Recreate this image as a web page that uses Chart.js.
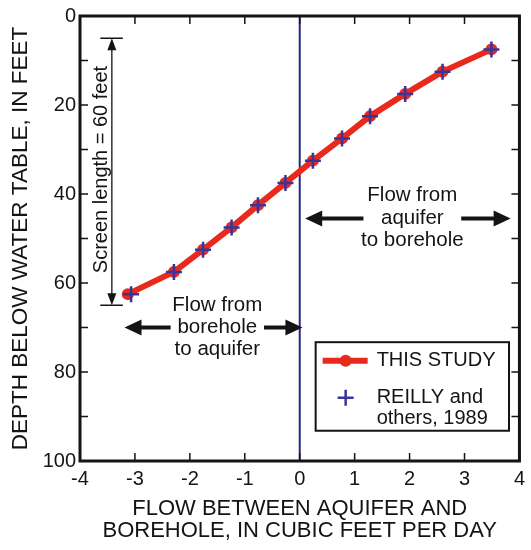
<!DOCTYPE html>
<html>
<head>
<meta charset="utf-8">
<script src="https://cdn.jsdelivr.net/npm/chart.js@4.4.0/dist/chart.umd.min.js"></script>
<style>
  body { margin: 0; background: #fff; }
  canvas { display: block; }
</style>
</head>
<body>
<canvas id="flowChart" width="531" height="550"></canvas>
<script>
// depth below water table (feet) and flow into/out of the borehole (cubic feet per day)
var depth = [62.5, 57.5, 52.5, 47.5, 42.5, 37.5, 32.5, 27.5, 22.5, 17.5, 12.5, 7.5];
var flowThisStudy = [-3.13, -2.29, -1.76, -1.24, -0.76, -0.26, 0.24, 0.77, 1.28, 1.92, 2.60, 3.49];
var flowReilly = [-3.07, -2.29, -1.76, -1.24, -0.76, -0.26, 0.24, 0.77, 1.28, 1.92, 2.60, 3.49];

// axis ticks
var xTicks = [-4, -3, -2, -1, 0, 1, 2, 3, 4];
var yTicks = [0, 10, 20, 30, 40, 50, 60, 70, 80, 90, 100];
var yLabels = [0, 20, 40, 60, 80, 100];

var FONT = "'Liberation Sans', Arial, sans-serif";
var INK = '#141414';

function toPoints(xs, ys) {
    var pts = [];
    for (var i = 0; i < xs.length; i++) {
        pts.push({ x: xs[i], y: ys[i] });
    }
    return pts;
}

// filled arrow head pointing from (x0,y0) toward tip (x1,y1)
function arrowHead(ctx, x0, y0, x1, y1, len, half) {
    var ang = Math.atan2(y1 - y0, x1 - x0);
    ctx.beginPath();
    ctx.moveTo(x1, y1);
    ctx.lineTo(x1 - len * Math.cos(ang) + half * Math.sin(ang), y1 - len * Math.sin(ang) - half * Math.cos(ang));
    ctx.lineTo(x1 - len * Math.cos(ang) - half * Math.sin(ang), y1 - len * Math.sin(ang) + half * Math.cos(ang));
    ctx.closePath();
    ctx.fill();
}

// horizontal double arrow with a gap for the label in the middle
function flowArrow(ctx, left, gapL, gapR, right, y) {
    ctx.lineWidth = 4;
    ctx.beginPath();
    ctx.moveTo(left + 10, y); ctx.lineTo(gapL, y);
    ctx.moveTo(gapR, y); ctx.lineTo(right - 10, y);
    ctx.stroke();
    arrowHead(ctx, gapL, y, left, y, 17, 8);
    arrowHead(ctx, gapR, y, right, y, 17, 8);
}

var annotations = {
    id: 'annotations',
    afterDraw: function(chart) {
        var ctx = chart.ctx;
        var xs = chart.scales.x, ys = chart.scales.y, a = chart.chartArea;
        var px = function(v) { return xs.getPixelForValue(v); };
        var py = function(v) { return ys.getPixelForValue(v); };
        ctx.save();
        ctx.strokeStyle = INK;
        ctx.fillStyle = INK;

        // frame
        ctx.lineWidth = 3;
        ctx.strokeRect(a.left, a.top, a.right - a.left, a.bottom - a.top);

        // inward tick marks on all four sides
        ctx.lineWidth = 1.5;
        ctx.beginPath();
        xTicks.forEach(function(v) {
            ctx.moveTo(px(v), a.bottom); ctx.lineTo(px(v), a.bottom - 8);
            ctx.moveTo(px(v), a.top); ctx.lineTo(px(v), a.top + 8);
        });
        yTicks.forEach(function(v) {
            ctx.moveTo(a.left, py(v)); ctx.lineTo(a.left + 8, py(v));
            ctx.moveTo(a.right, py(v)); ctx.lineTo(a.right - 8, py(v));
        });
        ctx.stroke();

        // screen length bar
        var sx = px(-3.42), sTop = py(5), sBot = py(65);
        ctx.lineWidth = 1.3;
        ctx.beginPath();
        ctx.moveTo(px(-3.63), sTop); ctx.lineTo(px(-3.22), sTop);
        ctx.moveTo(px(-3.63), sBot); ctx.lineTo(px(-3.22), sBot);
        ctx.moveTo(sx, sTop + 8); ctx.lineTo(sx, sBot - 8);
        ctx.stroke();
        arrowHead(ctx, sx, sBot, sx, sTop, 12, 4.5);
        arrowHead(ctx, sx, sTop, sx, sBot, 12, 4.5);

        ctx.font = '20px ' + FONT;
        ctx.save();
        ctx.translate(px(-3.5), py(34.5));
        ctx.rotate(-Math.PI / 2);
        ctx.textAlign = 'center';
        ctx.textBaseline = 'alphabetic';
        ctx.fillText('Screen length = 60 feet', 0, 0);
        ctx.restore();

        // flow direction labels
        ctx.font = '20.5px ' + FONT;
        ctx.textAlign = 'center';
        ctx.textBaseline = 'middle';
        flowArrow(ctx, px(-3.19), px(-2.35), px(-0.65), px(0.05), py(70));
        ctx.fillText('Flow from', px(-1.5), py(65));
        ctx.fillText('borehole', px(-1.5), py(70));
        ctx.fillText('to aquifer', px(-1.5), py(75));

        flowArrow(ctx, px(0.1), px(1.16), px(2.94), px(3.84), py(45.5));
        ctx.fillText('Flow from', px(2.05), py(40.3));
        ctx.fillText('aquifer', px(2.05), py(45.5));
        ctx.fillText('to borehole', px(2.05), py(50.5));

        // legend box
        var lx = px(0.29), rx = px(3.81), ty = py(73.3), by = py(93.2);
        ctx.fillStyle = '#fff';
        ctx.fillRect(lx, ty, rx - lx, by - ty);
        ctx.lineWidth = 2;
        ctx.strokeRect(lx, ty, rx - lx, by - ty);

        var row1 = ty + 18.5, row2 = ty + 55.5, row3 = ty + 76.5;
        ctx.strokeStyle = '#e8291c';
        ctx.fillStyle = '#e8291c';
        ctx.lineWidth = 6;
        ctx.beginPath();
        ctx.moveTo(lx + 7, row1); ctx.lineTo(lx + 52, row1);
        ctx.stroke();
        ctx.beginPath();
        ctx.arc(lx + 30, row1, 6, 0, Math.PI * 2);
        ctx.fill();

        ctx.strokeStyle = '#35359a';
        ctx.lineWidth = 2.5;
        ctx.beginPath();
        ctx.moveTo(lx + 22, row2); ctx.lineTo(lx + 38, row2);
        ctx.moveTo(lx + 30, row2 - 8); ctx.lineTo(lx + 30, row2 + 8);
        ctx.stroke();

        ctx.font = '20px ' + FONT;
        ctx.fillStyle = INK;
        ctx.textAlign = 'left';
        ctx.fillText('THIS STUDY', lx + 61, row1);
        ctx.fillText('REILLY and', lx + 61, row2);
        ctx.fillText('others, 1989', lx + 61, row3);

        ctx.restore();
    }
};

var ctx = document.getElementById('flowChart').getContext('2d');
var flowChart = new Chart(ctx, {
    type: 'scatter',
    data: {
        datasets: [{
            label: 'REILLY and others, 1989',
            data: toPoints(flowReilly, depth),
            pointStyle: 'cross',
            pointRadius: 8,
            borderWidth: 2.5,
            borderColor: '#35359a',
            showLine: false
        }, {
            label: 'THIS STUDY',
            data: toPoints(flowThisStudy, depth),
            showLine: true,
            borderColor: '#e8291c',
            backgroundColor: '#e8291c',
            borderWidth: 6,
            borderJoinStyle: 'round',
            pointRadius: 6,
            pointBorderWidth: 0
        }, {
            label: 'zero flow',
            data: [{ x: 0, y: 0 }, { x: 0, y: 100 }],
            showLine: true,
            borderColor: '#26267f',
            borderWidth: 2,
            pointRadius: 0
        }]
    },
    options: {
        responsive: false,
        animation: false,
        layout: { padding: { top: 13, right: 10, left: 0, bottom: 0 } },
        plugins: {
            legend: { display: false },
            tooltip: { enabled: false }
        },
        scales: {
            x: {
                type: 'linear',
                min: -4,
                max: 4,
                afterFit: function(s) { s.height = 89; },
                afterBuildTicks: function(s) { s.ticks = xTicks.map(function(v) { return { value: v }; }); },
                grid: { display: false, drawTicks: false },
                border: { display: false },
                ticks: { color: INK, font: { family: FONT, size: 20 }, padding: 6, maxRotation: 0, autoSkip: false },
                title: {
                    display: true,
                    text: ['FLOW BETWEEN AQUIFER AND', 'BOREHOLE, IN CUBIC FEET PER DAY'],
                    color: INK,
                    font: { family: FONT, size: 22, lineHeight: 1.0 },
                    padding: { top: 0, bottom: 8 }
                }
            },
            y: {
                type: 'linear',
                reverse: true,
                min: 0,
                max: 100,
                afterFit: function(s) { s.width = 80; },
                afterBuildTicks: function(s) { s.ticks = yLabels.map(function(v) { return { value: v }; }); },
                grid: { display: false, drawTicks: false },
                border: { display: false },
                ticks: { color: INK, font: { family: FONT, size: 20 }, padding: 4 },
                title: {
                    display: true,
                    text: 'DEPTH BELOW WATER TABLE, IN FEET',
                    color: INK,
                    font: { family: FONT, size: 22.5, lineHeight: 1.0 },
                    padding: { top: 10, bottom: 0 }
                }
            }
        }
    },
    plugins: [annotations]
});
</script>
</body>
</html>
